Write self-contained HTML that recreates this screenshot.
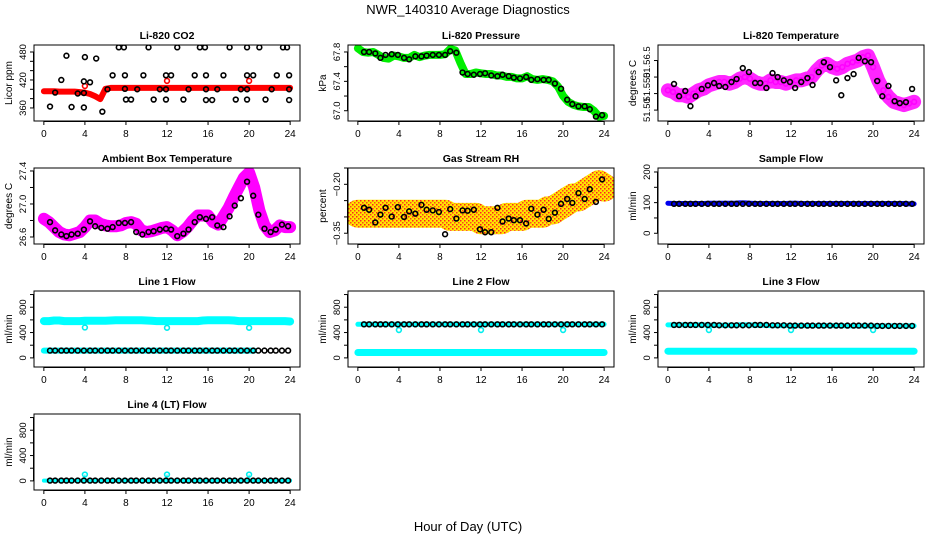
<!DOCTYPE html>
<html><head><meta charset="utf-8">
<style>
html,body{margin:0;padding:0;background:#fff;}
svg{display:block;font-family:"Liberation Sans",sans-serif;}
</style></head>
<body>
<svg id="chart" width="936" height="540" viewBox="0 0 936 540" xmlns="http://www.w3.org/2000/svg">
<defs>
<pattern id="chk" width="4" height="4" patternUnits="userSpaceOnUse">
<rect width="4" height="4" fill="#ffe600"/><rect width="1.5" height="1.5" fill="#ff2020"/><rect x="2" y="2" width="1.5" height="1.5" fill="#ff4020"/>
</pattern>
</defs>
<text x="468" y="14" text-anchor="middle" font-size="13">NWR_140310  Average Diagnostics</text>
<text x="468" y="531" text-anchor="middle" font-size="13">Hour of Day (UTC)</text>
</svg>
<script>
const HALF = [0,0.5,1,1.5,2,2.5,3,3.5,4,4.5,5,5.5,6,6.5,7,7.5,8,8.5,9,9.5,10,10.5,11,11.5,12,12.5,13,13.5,14,14.5,15,15.5,16,16.5,17,17.5,18,18.5,19,19.5,20,20.5,21,21.5,22,22.5,23,23.5,24];
const BHOURS = [0.6,1.1,1.7,2.2,2.7,3.3,3.9,4.5,5.0,5.6,6.2,6.7,7.3,7.9,8.5,9.0,9.6,10.2,10.7,11.3,11.9,12.4,13.0,13.6,14.1,14.7,15.2,15.8,16.4,16.9,17.5,18.1,18.6,19.2,19.8,20.4,20.9,21.5,22.1,22.6,23.2,23.8];
const XTICKS = [0,4,8,12,16,20,24];

const co2Red = [396,396,396,395,395,395,395,394,393,390,385,379,401,403,403,403,403,403,403,403,403,403,403,403,403,403,403,403,403,403,403,403,403,403,403,403,403,403,403,403,403,403,403,403,403,403,403,403,403];
const co2BlackX = [0.6,1.1,1.7,2.2,2.7,3.3,3.9,3.9,3.9,4.0,4.5,5.1,5.7,6.2,6.7,7.3,7.8,7.9,7.9,8.0,8.5,9.1,9.7,10.2,10.7,11.3,11.9,11.9,11.9,12.4,13.0,13.6,14.1,14.7,15.2,15.7,15.8,15.8,15.8,16.4,16.9,17.5,18.1,18.7,19.2,19.8,19.8,19.8,19.8,20.4,21.0,21.6,22.2,22.7,23.3,23.7,23.9,23.9,23.9];
const co2BlackY = [363,393,420,472,362,391,361,392,417,469,415,466,352,400,430,490,490,430,401,378,378,400,430,490,378,400,400,430,378,430,490,378,400,430,490,490,430,400,377,377,400,430,490,378,400,490,430,400,378,430,490,378,400,430,490,490,430,400,377];
const co2OutX = [4,12,20];
const co2OutY = [407,418,418];

const presGreen = [67.85,67.80,67.79,67.80,67.76,67.72,67.71,67.75,67.74,67.72,67.72,67.76,67.73,67.75,67.76,67.76,67.76,67.77,67.84,67.82,67.65,67.50,67.50,67.52,67.51,67.50,67.50,67.48,67.48,67.46,67.46,67.44,67.44,67.47,67.43,67.42,67.43,67.42,67.40,67.33,67.20,67.12,67.08,67.06,67.05,67.05,67.00,66.92,66.93];
const presBlack = [67.80,67.80,67.78,67.72,67.76,67.77,67.76,67.72,67.70,67.74,67.74,67.75,67.76,67.76,67.76,67.81,67.79,67.52,67.50,67.49,67.50,67.51,67.48,67.47,67.49,67.47,67.45,67.44,67.46,67.42,67.43,67.42,67.42,67.37,67.30,67.15,67.09,67.06,67.06,67.02,66.92,66.94];

const ltMag = [51.560,51.555,51.545,51.545,51.540,51.550,51.560,51.565,51.575,51.580,51.585,51.585,51.580,51.585,51.595,51.600,51.595,51.585,51.580,51.580,51.590,51.585,51.585,51.580,51.585,51.590,51.590,51.595,51.600,51.620,51.635,51.640,51.630,51.625,51.630,51.640,51.645,51.650,51.660,51.665,51.630,51.590,51.560,51.540,51.525,51.520,51.515,51.520,51.525];
const ltBlack = [51.579,51.542,51.558,51.512,51.542,51.564,51.575,51.582,51.573,51.570,51.585,51.594,51.627,51.615,51.582,51.582,51.567,51.612,51.600,51.590,51.585,51.567,51.585,51.597,51.576,51.615,51.645,51.630,51.590,51.545,51.597,51.609,51.658,51.648,51.645,51.588,51.542,51.573,51.527,51.521,51.524,51.564];

const ambMag = [26.82,26.78,26.72,26.66,26.63,26.62,26.64,26.66,26.72,26.80,26.80,26.76,26.74,26.73,26.73,26.74,26.77,26.78,26.76,26.68,26.66,26.67,26.69,26.71,26.72,26.68,26.62,26.66,26.72,26.80,26.86,26.86,26.86,26.78,26.75,26.85,26.95,27.08,27.20,27.32,27.38,27.20,26.92,26.74,26.66,26.68,26.74,26.72,26.72];
const ambBlack = [26.78,26.68,26.63,26.61,26.63,26.64,26.69,26.79,26.73,26.71,26.70,26.72,26.77,26.77,26.78,26.66,26.63,26.66,26.67,26.69,26.70,26.69,26.61,26.64,26.69,26.78,26.84,26.82,26.84,26.74,26.72,26.85,26.98,27.07,27.27,27.10,26.87,26.70,26.66,26.69,26.75,26.73];

const rhYel = [-0.29,-0.29,-0.29,-0.29,-0.29,-0.29,-0.29,-0.29,-0.29,-0.29,-0.29,-0.29,-0.29,-0.29,-0.29,-0.29,-0.29,-0.29,-0.30,-0.30,-0.30,-0.30,-0.30,-0.30,-0.31,-0.31,-0.31,-0.31,-0.31,-0.30,-0.30,-0.30,-0.30,-0.29,-0.29,-0.29,-0.29,-0.28,-0.28,-0.27,-0.26,-0.25,-0.24,-0.24,-0.23,-0.22,-0.21,-0.20,-0.21];
const rhBlack = [-0.272,-0.278,-0.317,-0.293,-0.272,-0.299,-0.270,-0.300,-0.283,-0.290,-0.263,-0.278,-0.280,-0.285,-0.353,-0.276,-0.305,-0.280,-0.281,-0.278,-0.338,-0.347,-0.347,-0.272,-0.314,-0.305,-0.310,-0.310,-0.320,-0.275,-0.293,-0.278,-0.306,-0.287,-0.260,-0.245,-0.257,-0.227,-0.245,-0.215,-0.254,-0.185];

const sampBlue = [98,97,97,97,97,97,97,97,98,98,98,98,98,98,99,99,98,97,97,97,97,97,97,97,98,98,97,97,97,97,97,97,97,97,97,97,97,97,97,97,97,97,97,97,97,97,97,96,96];
const sampBlack = [96,96,96,96,96,96,96,96,96,96,96,96,96,96,96,96,96,96,96,96,96,96,96,96,96,96,96,96,96,96,96,96,96,96,96,96,96,96,96,96,96,96];
const l1Cyan = [580,580,590,590,580,580,580,580,585,585,585,585,585,590,595,595,595,595,595,595,590,585,580,580,580,580,580,580,580,580,580,590,595,595,595,595,595,590,580,580,580,580,580,580,580,580,580,580,575];
const l1Black = [115,115,115,115,115,115,115,115,115,115,115,115,115,115,115,115,115,115,115,115,115,115,115,115,115,115,115,115,115,115,115,115,115,115,115,115,115,115,115,115,115,115];
const l1OutX = [4,12,20]; const l1OutY = [480,475,475];
const l2Cyan = [85,85,85,85,85,85,85,85,85,85,85,85,85,85,85,85,85,85,85,85,85,85,85,85,85,85,85,85,85,85,85,85,85,85,85,85,85,85,85,85,85,85,85,85,85,85,85,85,85];
const l2Black = [530,530,530,530,530,530,530,530,530,530,530,530,530,530,530,530,530,530,530,530,530,530,530,530,530,530,530,530,530,530,530,530,530,530,530,530,530,530,530,530,530,530];
const l2OutX = [4,12,20]; const l2OutY = [440,440,440];
const l3Cyan = [105,105,105,105,105,105,105,105,105,105,105,105,105,105,105,105,105,105,105,105,105,105,105,105,105,105,105,105,105,105,105,105,105,105,105,105,105,105,105,105,105,105,105,105,105,105,105,105,105];
const l3Black = [520,520,520,520,520,520,520,520,515,515,515,515,515,515,520,520,520,515,515,515,510,510,510,510,510,510,510,510,510,510,510,510,510,510,510,505,505,505,505,505,505,505];
const l3OutX = [4,12,20]; const l3OutY = [440,440,440];
const l4Cyan = [5,5,5,5,5,5,5,5,5,5,5,5,5,5,5,5,5,5,5,5,5,5,5,5,5,5,5,5,5,5,5,5,5,5,5,5,5,5,5,5,5,5,5,5,5,5,5,5,5];
const l4Black = [5,5,5,5,5,5,5,5,5,5,5,5,5,5,5,5,5,5,5,5,5,5,5,5,5,5,5,5,5,5,5,5,5,5,5,5,5,5,5,5,5,5];
const l4OutX = [4,12,20]; const l4OutY = [100,100,100];

const NS = "http://www.w3.org/2000/svg";
const svg = document.getElementById('chart');
function mk(tag, attrs, parent){
  const e = document.createElementNS(NS, tag);
  for (const k in attrs) e.setAttribute(k, attrs[k]);
  (parent||svg).appendChild(e); return e;
}

const COLS = [34, 348, 658];
const ROWS = [45, 168, 291, 414];
const W = 266, H = 76;

const panels = [
  {name:'co2', title:'Li-820 CO2', c:0, r:0, ylab:'Licor ppm', ylim:[332,495], ticks:[360,380,400,420,440,460,480], labels:[[360,'360'],[420,'420'],[480,'480']],
   series:[{x:HALF,y:co2Red,color:'#ff0000',w:6,kind:'band'},{x:co2OutX,y:co2OutY,color:'#ff0000',kind:'pts'},{x:co2BlackX,y:co2BlackY,color:'#000',kind:'pts'}]},
  {name:'pressure', title:'Li-820 Pressure', c:1, r:0, ylab:'kPa', ylim:[66.86,67.895], ticks:[67.0,67.2,67.4,67.6,67.8], labels:[[67.0,'67.0'],[67.4,'67.4'],[67.8,'67.8']],
   series:[{x:HALF,y:presGreen,color:'#00ee00',w:8,kind:'band'},{x:BHOURS,y:presBlack,color:'#000',kind:'pts'}]},
  {name:'li820-temp', title:'Li-820 Temperature', c:2, r:0, ylab:'degrees C', ylim:[51.467,51.697], ticks:[51.50,51.55,51.60,51.65], labels:[[51.50,'51.50'],[51.57,'51.550'],[51.645,'51.56.5']],
   series:[{x:HALF,y:ltMag,color:'#ff00ff',w:14,kind:'band',op:0.85},{x:HALF,y:ltMag,color:'#ff00ff',kind:'pts'},{x:BHOURS,y:ltBlack,color:'#000',kind:'pts'}]},
  {name:'ambient-temp', title:'Ambient Box Temperature', c:0, r:1, ylab:'degrees C', ylim:[26.515,27.436], ticks:[26.6,26.8,27.0,27.2,27.4], labels:[[26.6,'26.6'],[27.0,'27.0'],[27.4,'27.4']],
   series:[{x:HALF,y:ambMag,color:'#ff00ff',w:12,kind:'band'},{x:BHOURS,y:ambBlack,color:'#000',kind:'pts'}]},
  {name:'gas-rh', title:'Gas Stream RH', c:1, r:1, ylab:'percent', ylim:[-0.383,-0.15], ticks:[-0.35,-0.30,-0.25,-0.20,-0.15], labels:[[-0.35,'-0.35'],[-0.20,'-0.20']],
   series:[{x:HALF,y:rhYel,color:'url(#chk)',w:28,kind:'band'},{x:BHOURS,y:rhBlack,color:'#000',kind:'pts'}]},
  {name:'sample-flow', title:'Sample Flow', c:2, r:1, ylab:'ml/min', ylim:[-35,213], ticks:[0,50,100,150,200], labels:[[0,'0'],[100,'100'],[200,'200']],
   series:[{x:HALF,y:sampBlue,color:'#0000ee',w:5,kind:'band'},{x:BHOURS,y:sampBlack,color:'#000',kind:'pts'}]},
  {name:'line1-flow', title:'Line 1 Flow', c:0, r:2, ylab:'ml/min', ylim:[-144,1056], ticks:[0,200,400,600,800,1000], labels:[[0,'0'],[400,'400'],[800,'800']],
   series:[{x:HALF,y:l1Cyan,color:'#00ffff',w:8,kind:'band'},{x:HALF,y:l1Black,color:'#00ffff',w:6,kind:'band'},{x:l1OutX,y:l1OutY,color:'#00eeee',kind:'pts'},{x:BHOURS,y:l1Black,color:'#000',kind:'pts'}]},
  {name:'line2-flow', title:'Line 2 Flow', c:1, r:2, ylab:'ml/min', ylim:[-144,1056], ticks:[0,200,400,600,800,1000], labels:[[0,'0'],[400,'400'],[800,'800']],
   series:[{x:HALF,y:l2Cyan,color:'#00ffff',w:7,kind:'band'},{x:HALF,y:l2Black.concat([530,530,530,530,530,530,530]),color:'#00ffff',w:5,kind:'band'},{x:l2OutX,y:l2OutY,color:'#00eeee',kind:'pts'},{x:BHOURS,y:l2Black,color:'#000',kind:'pts'}]},
  {name:'line3-flow', title:'Line 3 Flow', c:2, r:2, ylab:'ml/min', ylim:[-144,1056], ticks:[0,200,400,600,800,1000], labels:[[0,'0'],[400,'400'],[800,'800']],
   series:[{x:HALF,y:l3Cyan,color:'#00ffff',w:7,kind:'band'},{x:HALF,y:l3Black.concat([505,505,505,505,505,505,505]),color:'#00ffff',w:5,kind:'band'},{x:l3OutX,y:l3OutY,color:'#00eeee',kind:'pts'},{x:BHOURS,y:l3Black,color:'#000',kind:'pts'}]},
  {name:'line4-flow', title:'Line 4 (LT) Flow', c:0, r:3, ylab:'ml/min', ylim:[-144,1056], ticks:[0,200,400,600,800,1000], labels:[[0,'0'],[400,'400'],[800,'800']],
   series:[{x:HALF,y:l4Cyan,color:'#00ffff',w:4,kind:'band'},{x:l4OutX,y:l4OutY,color:'#00eeee',kind:'pts',stem:true},{x:BHOURS,y:l4Black,color:'#000',kind:'pts'}]},
];

panels.forEach(p => {
  const x0 = COLS[p.c], y0 = ROWS[p.r];
  const g = mk('g', {});
  
  
  const sx = v => x0 + (v + 0.96) / 25.92 * W;
  const sy = v => y0 + H - (v - p.ylim[0]) / (p.ylim[1] - p.ylim[0]) * H;
  const clipId = 'clip-' + p.name;
  const cp = mk('clipPath', {id: clipId}, g);
  mk('rect', {x:x0, y:y0, width:W, height:H}, cp);
  const plot = mk('g', {'clip-path':'url(#'+clipId+')'}, g);
  
  
  p.series.forEach(s => {
    if (s.kind === 'band') {
      const pts = s.x.map((xv, i) => sx(xv).toFixed(1) + ',' + sy(s.y[i]).toFixed(1)).join(' ');
      const pl = mk('polyline', {points:pts, fill:'none', stroke:s.color, 'stroke-width':s.w, 'stroke-linejoin':'round', 'stroke-linecap':'round', opacity:(s.op||1)}, plot);
      
      
    } else {
      s.x.forEach((xv, i) => {
        if (s.stem) {
          mk('line', {x1:sx(xv), x2:sx(xv), y1:sy(s.y[i]), y2:sy(0), stroke:s.color, 'stroke-width':1}, plot);
        }
        const c = mk('circle', {cx:sx(xv), cy:sy(s.y[i]), r:2.4, fill:'none', stroke:s.color, 'stroke-width':1.6}, plot);
        
        
      });
    }
  });
  const box = mk('rect', {x:x0, y:y0, width:W, height:H, fill:'none', stroke:'#000', 'stroke-width':1}, g);
  
  
  const t = mk('text', {x:x0 + W/2, y:y0 - 6, 'text-anchor':'middle', 'font-size':10.5, 'font-weight':'bold'}, g);
  t.textContent = p.title;
  
  
  const xa = mk('g', {}, g);
  
  
  mk('line', {x1:sx(0), x2:sx(24), y1:y0+H+0.5, y2:y0+H+0.5, stroke:'#000'}, xa);
  XTICKS.forEach(v => {
    mk('line', {x1:sx(v), x2:sx(v), y1:y0+H, y2:y0+H+4, stroke:'#000'}, xa);
    const tl = mk('text', {x:sx(v), y:y0+H+16, 'text-anchor':'middle', 'font-size':10}, xa);
    tl.textContent = v;
    
    
  });
  const ya = mk('g', {}, g);
  
  
  const tmin = p.ticks[0], tmax = p.ticks[p.ticks.length-1];
  mk('line', {x1:x0-0.5, x2:x0-0.5, y1:sy(tmin), y2:sy(tmax), stroke:'#000'}, ya);
  p.ticks.forEach(v => mk('line', {x1:x0-4, x2:x0, y1:sy(v), y2:sy(v), stroke:'#000'}, ya));
  p.labels.forEach(([v, s]) => {
    const yy = sy(v);
    const tl = mk('text', {x:x0-8, y:yy, 'text-anchor':'middle', 'font-size':9.5, transform:'rotate(-90 '+(x0-8)+' '+yy+')'}, ya);
    tl.textContent = s.replace('-', '\u2212');
    
    
  });
  const yl = mk('text', {x:x0-22, y:y0+H/2, 'text-anchor':'middle', 'font-size':10, transform:'rotate(-90 '+(x0-22)+' '+(y0+H/2)+')'}, g);
  yl.textContent = p.ylab;
  
  
});
</script>
</body></html>
